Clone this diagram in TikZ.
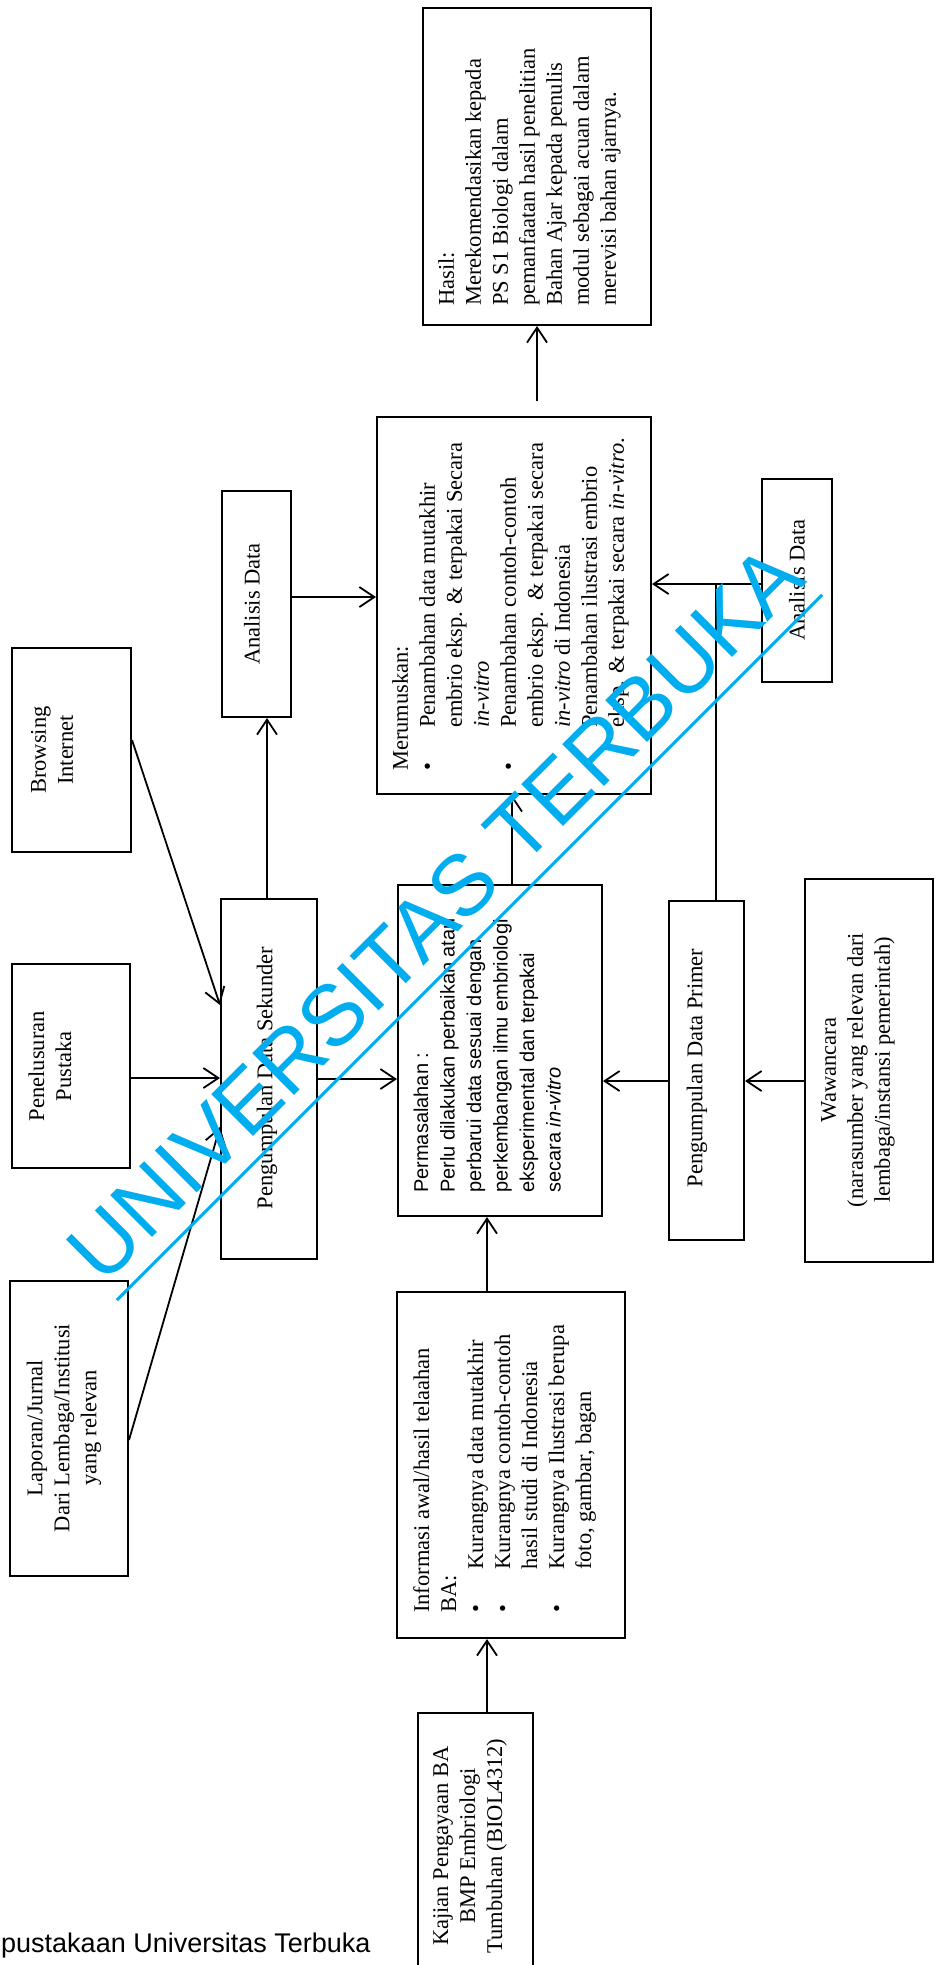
\documentclass[tikz,border=0pt]{standalone}
\usepackage{fontspec}
\setmainfont{Liberation Serif}
\newfontfamily\sansf{Liberation Sans}
\usetikzlibrary{arrows.meta, calc}
\definecolor{wmblue}{RGB}{0,174,239}
\tikzset{
  box/.style={draw, line width=2pt, inner sep=0pt},
  txt/.style={rotate=90, inner sep=0pt, font=\fontsize{22.5}{27}\selectfont},
  arr/.style={line width=1.8pt, -{Straight Barb[length=15pt, width=20pt]}},
  link/.style={line width=1.8pt}
}
\newcommand{\itm}{\makebox[43pt][l]{\textbullet}}
\newcommand{\ind}{\hspace*{43pt}}
\begin{document}
\begin{tikzpicture}[x=1pt, y=-1pt]
\useasboundingbox (0,0) rectangle (936,1965);

\node [box, minimum width=228, minimum height=317] (Bhasil) at (537,166.5) {};
\node [box, minimum width=274, minimum height=377] (Bmeru) at (514,605.5) {};
\node [box, minimum width=69, minimum height=226] (Bana1) at (256.5,604) {};
\node [box, minimum width=70, minimum height=203] (Bana2) at (797,580.5) {};
\node [box, minimum width=119, minimum height=204] (Bbrows) at (71.5,750) {};
\node [box, minimum width=118, minimum height=204] (Bpene) at (71,1066) {};
\node [box, minimum width=118, minimum height=295] (Blapo) at (69,1428.5) {};
\node [box, minimum width=96, minimum height=360] (Bsek) at (269,1079) {};
\node [box, minimum width=204, minimum height=331] (Bperm) at (500,1050.5) {};
\node [box, minimum width=75, minimum height=339] (Bprim) at (706.5,1070.5) {};
\node [box, minimum width=128, minimum height=383] (Bwaw) at (869,1070.5) {};
\node [box, minimum width=228, minimum height=346] (Binfo) at (511,1465) {};
\node [box, minimum width=115, minimum height=267] (Bkaj) at (475.5,1846.5) {};

\node [txt, anchor=north west, align=left] (Thasil) at (438,306)
  {Hasil:\\Merekomendasikan kepada\\PS S1 Biologi dalam\\pemanfaatan hasil penelitian\\Bahan Ajar kepada penulis\\modul sebagai acuan dalam\\merevisi bahan ajarnya.};
\node [txt, anchor=north west, align=left] (Tmeru) at (392,771)
  {Merumuskan:\\\itm Penambahan data mutakhir\\\ind embrio eksp. \& terpakai Secara\\\ind \textit{in-vitro}\\\itm Penambahan contoh-contoh\\\ind embrio eksp.\ \ \& terpakai secara\\\ind \textit{in-vitro} di Indonesia\\\itm Penambahan ilustrasi embrio\\\ind eksp. \& terpakai secara \textit{in-vitro}.};
\node [txt, anchor=north west, align=left, font=\sansf\fontsize{20}{26.5}\selectfont] (Tperm) at (413.5,1193)
  {Permasalahan :\\Perlu dilakukan perbaikan atau\\perbarui data sesuai dengan\\perkembangan ilmu embriologi\\eksperimental dan terpakai\\secara \textit{in-vitro}};
\node [txt, anchor=north west, align=left] (Tinfo) at (413,1613)
  {Informasi awal/hasil telaahan\\BA:\\\itm Kurangnya data mutakhir\\\itm Kurangnya contoh-contoh\\\ind hasil studi di Indonesia\\\itm Kurangnya Ilustrasi berupa\\\ind foto, gambar, bagan};
\node [txt, align=center] (Tkaj) at (470,1846) {Kajian Pengayaan BA\\BMP Embriologi\\Tumbuhan (BIOL4312)};
\node [txt, align=center] (Tlapo) at (64,1428) {Laporan/Jurnal\\Dari Lembaga/Institusi\\yang relevan};
\node [txt, align=center] (Tpene) at (50,1066) {Penelusuran\\Pustaka};
\node [txt, align=center] (Tbrows) at (52,750) {Browsing\\Internet};
\node [txt] (Tsek) at (267,1078) {Pengumpulan Data Sekunder};
\node [txt] (Tana1) at (252,604) {Analisis Data};
\node [txt] (Tana2) at (797,580) {Analisis Data};
\node [txt] (Tprim) at (697,1068) {Pengumpulan Data Primer};
\node [txt, align=center] (Twaw) at (858,1070) {Wawancara\\(narasumber yang relevan dari\\lembaga/instansi pemerintah)};

\draw [arr] ([xshift=11.5pt]Bkaj.north) -- ([xshift=11.5pt]Bkaj.north |- Binfo.south);
\draw [arr] ([xshift=-24pt]Binfo.north) -- ([xshift=-24pt]Binfo.north |- Bperm.south);
\draw [arr] ([xshift=12pt]Bperm.north) -- ([xshift=12pt]Bperm.north |- Bmeru.south);
\draw [arr] ([yshift=15pt]Bmeru.north -| Bhasil.south) -- (Bhasil.south);
\draw [arr] ([yshift=7pt]Bana1.east) -- ([yshift=7pt]Bana1.east -| Bmeru.west);
\draw [arr] ([xshift=-2pt]Bsek.north) -- ([xshift=-2pt]Bsek.north |- Bana1.south);
\draw [arr] (Bsek.east) -- (Bsek.east -| Bperm.west);
\draw [arr] ([yshift=-12pt]Bpene.east) -- ([yshift=-12pt]Bpene.east -| Bsek.west);
\draw [arr] ([yshift=10pt]Bbrows.east) -- ([yshift=74pt]Bsek.west);
\draw [arr] ([yshift=-11.5pt]Blapo.east) -- ([yshift=-48pt]Bsek.west);
\draw [arr] ([yshift=-10.5pt]Bprim.west) -- ([yshift=-10.5pt]Bprim.west -| Bperm.east);
\draw [arr] ([yshift=-10.5pt]Bwaw.west) -- ([yshift=-10.5pt]Bwaw.west -| Bprim.east);
\draw [arr] ([yshift=-3.5pt]Bana2.west) -- ([yshift=-3.5pt]Bana2.west -| Bmeru.east);
\draw [link] ([xshift=9.5pt]Bprim.north) -- ([xshift=9.5pt,yshift=-3.5pt]Bprim.north |- Bana2.west);

\node [anchor=base west, inner sep=0pt, font=\sansf\fontsize{27}{27}\selectfont] (footer) at (1,1952) {pustakaan Universitas Terbuka};

\node [rotate=45, anchor=base, text=wmblue, inner xsep=0pt, inner ysep=18pt, font=\sansf\fontsize{86}{86}\selectfont] (wmark) at (456,934) {UNIVERSITAS TERBUKA};
\draw [wmblue, line width=3pt] (wmark.south west) -- (wmark.south east);
\end{tikzpicture}
\end{document}
